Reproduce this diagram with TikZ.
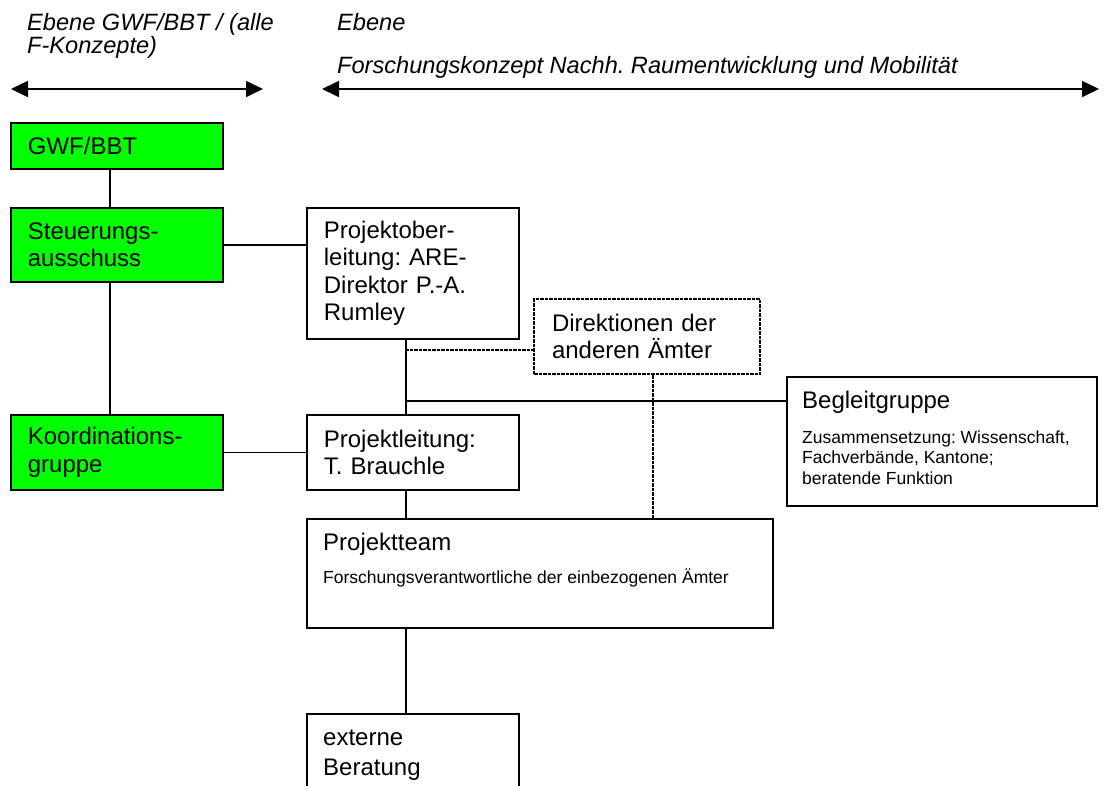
\documentclass[tikz,border=0pt]{standalone}
\usepackage{fontspec}
\setmainfont{Liberation Sans}
\usetikzlibrary{arrows.meta}
\definecolor{grn}{RGB}{0,255,0}
\newcommand\fBody{\fontsize{24}{27.6}\selectfont}
\newcommand\fSmall{\fontsize{17.5}{20.2}\selectfont}
\newcommand\fHead{\fontsize{23.6}{23}\selectfont\itshape}
\frenchspacing
\begin{document}
\begin{tikzpicture}[x=1pt,y=-1pt,
  box/.style={draw=black, line width=1.7pt, rectangle, anchor=north west, inner sep=0pt, inner xsep=17pt, align=left, font=\fBody},
  dotbox/.style={line width=2pt, dash pattern=on 3.5pt off 1pt},
  txt/.style={anchor=base west, inner sep=0pt},
  conn/.style={line width=1.7pt},
  dotc/.style={line width=2.5pt, dash pattern=on 3.5pt off 1pt},
  dbl/.style={line width=1.7pt, {Triangle[length=17pt,width=16pt]}-{Triangle[length=17pt,width=16pt]}}]
\useasboundingbox (0,0) rectangle (1109,785);
\clip (0,0) rectangle (1109,785);
\fill[white] (0,0) rectangle (1109,785);

% headers
\node[txt, font=\fHead] (h1a) at (27,30.5) {Ebene GWF/BBT / (alle};
\node[txt, font=\fHead] (h1b) at (27,53) {F-Konzepte)};
\node[txt, font=\fHead] (h2a) at (337,30.5) {Ebene};
\node[txt, font=\fHead] (h2b) at (337,73.5) {Forschungskonzept Nachh. Raumentwicklung und Mobilität};
\coordinate (a1l) at (11,89);
\coordinate (a1r) at (263,89);
\coordinate (a2l) at (322,89);
\coordinate (a2r) at (1099,89);
\draw[dbl] (a1l) -- (a1r);
\draw[dbl] (a2l) -- (a2r);

% boxes
\node[box, fill=grn, text width=178pt, minimum height=46pt] (gwf) at (10,122) {GWF/BBT};
\node[box, fill=grn, text width=178pt, minimum height=74pt] (steuer) at (10,207) {Steuerungs-\\ausschuss};
\node[box, fill=grn, text width=178pt, minimum height=75pt] (koord) at (10,414) {Koordinations-\\gruppe};
\node[box, text width=178pt, minimum height=131pt] (pol) at (306,207) {Projektober-\\leitung: ARE-\\Direktor P.-A.\\Rumley};
\node[box, dotbox, text width=190pt, inner xsep=18pt, minimum height=75pt] (dir) at (533,298) {Direktionen der\\anderen Ämter};
\node[box, text width=178pt, minimum height=75pt] (pl) at (306,414) {Projektleitung:\\T. Brauchle};
\node[box, minimum width=310pt, minimum height=129pt] (beg) at (786,376) {};
\node[box, minimum width=466pt, minimum height=109pt] (team) at (306,518) {};
\node[box, minimum width=212pt, minimum height=110pt] (ext) at (306,713) {};

% texts in top-aligned boxes
\node[txt, font=\fBody] (begT) at (802,408.5) {Begleitgruppe};
\node[txt, font=\fSmall] (begA) at (802,443.5) {Zusammensetzung: Wissenschaft,};
\node[txt, font=\fSmall] (begB) at (802,463.5) {Fachverbände, Kantone;};
\node[txt, font=\fSmall] (begC) at (802,484.5) {beratende Funktion};
\node[txt, font=\fBody] (teamT) at (323,550) {Projektteam};
\node[txt, font=\fSmall] (teamA) at (323,583.5) {Forschungsverantwortliche der einbezogenen Ämter};
\node[txt, font=\fBody] (extA) at (323,745.5) {externe};
\node[txt, font=\fBody] (extB) at (323,775.5) {Beratung};

% connectors
\coordinate (j1) at (405,401);
\coordinate (j2) at (405,350);
\draw[conn] ([xshift=-7pt]gwf.south) -- ([xshift=-7pt]steuer.north);
\draw[conn] ([xshift=-7pt]steuer.south) -- ([xshift=-7pt]koord.north);
\draw[conn] (steuer.east) -- (steuer.east -| pol.west);
\draw[conn] (koord.east) -- (koord.east -| pl.west);
\draw[conn] ([xshift=-7pt]pol.south) -- ([xshift=-7pt]pl.north);
\draw[conn] (j1) -- (j1 -| beg.west);
\draw[dotc] (j2) -- (j2 -| dir.west);
\draw[dotc] ([xshift=6pt]dir.south) -- ([xshift=6pt]dir.south |- team.north);
\draw[conn] ([xshift=-7pt]pl.south) -- ([xshift=-7pt]pl.south |- team.north);
\draw[conn] ([xshift=-7pt]ext.north |- team.south) -- ([xshift=-7pt]ext.north);
\end{tikzpicture}
\end{document}
